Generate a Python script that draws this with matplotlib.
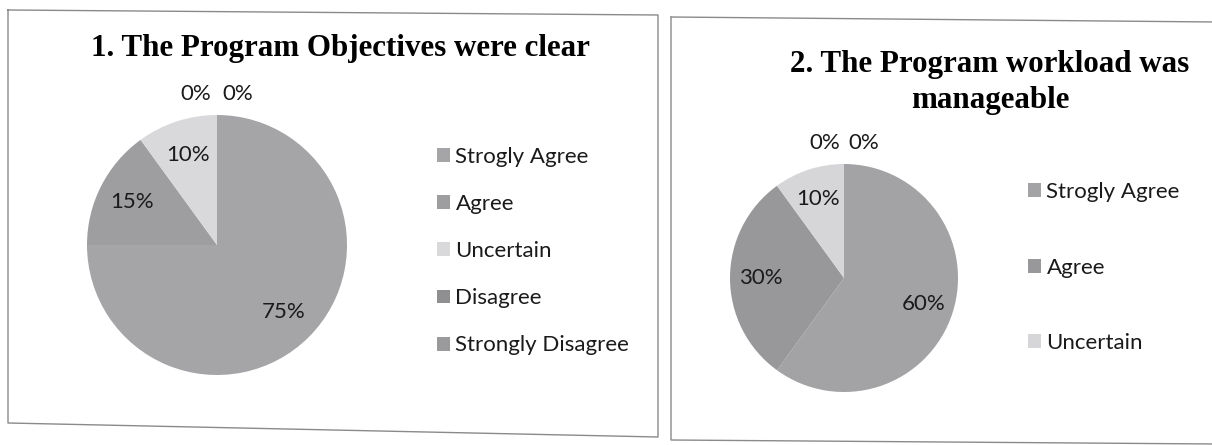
import matplotlib
matplotlib.use("Agg")
import matplotlib.pyplot as plt
from matplotlib.lines import Line2D

# ---- data ----
categories = ["Strogly Agree", "Agree", "Uncertain", "Disagree", "Strongly Disagree"]
values_q1 = [75, 15, 10, 0, 0]
values_q2 = [60, 30, 10, 0, 0]
title_q1 = "1. The Program Objectives were clear"
title_q2_lines = ["2. The Program workload was", "manageable"]

colors_q1 = ["#a5a4a7", "#9e9da0", "#d9d8db", "#8f8e91", "#9a999c"]
colors_q2 = ["#a3a2a5", "#98979a", "#d6d5d8", "#8f8e91", "#9a999c"]

W, H = 1212, 445
fig = plt.figure(figsize=(W / 100, H / 100), dpi=100)
fig.patch.set_facecolor("white")

LABEL_FONT = "Lato"
TITLE_FONT = "Liberation Serif"
FS = 16


def px_axes(x0, y0, x1, y1):
    """axes from pixel box (top-left origin)."""
    return fig.add_axes([x0 / W, 1 - y1 / H, (x1 - x0) / W, (y1 - y0) / H])


def box(points):
    xs = [p[0] / W for p in points]
    ys = [1 - p[1] / H for p in points]
    fig.add_artist(Line2D(xs, ys, color="#8a8a8a", lw=1.0, transform=fig.transFigure))


def draw_pie(ax, values, colors, zero_dx, zero_y):
    wedges, texts = ax.pie(values, colors=colors, startangle=90, counterclock=False,
                           labels=[f"{v}%" for v in values], labeldistance=0.73,
                           wedgeprops=dict(linewidth=0))
    ax.set_xlim(-1, 1)
    ax.set_ylim(-1, 1)
    ax.set_aspect("auto")
    zero_idx = [i for i, v in enumerate(values) if v == 0]
    for k, i in enumerate(zero_idx):
        texts[i].set_position(((-1 if k == 0 else 1) * zero_dx, zero_y))
    for t in texts:
        t.set_fontfamily(LABEL_FONT)
        t.set_fontsize(FS)
        t.set_color("#1a1a1a")
        t.set_ha("center")
        t.set_va("center")
    return wedges


def legend(handles, labels, x, y, spacing):
    leg = fig.legend(handles, labels, loc="upper left",
                     bbox_to_anchor=(x / W, 1 - y / H), frameon=False,
                     prop=dict(family=LABEL_FONT, size=FS), labelspacing=spacing,
                     handlelength=0.58, handleheight=0.58, handletextpad=0.25,
                     borderaxespad=0, borderpad=0)
    for t in leg.get_texts():
        t.set_color("#1a1a1a")
    return leg


# ---- panel borders ----
box([(8, 10), (658, 15), (658, 437), (8, 423), (8, 10)])
box([(671, 17), (1215, 22)])
box([(671, 17), (671, 440), (1215, 444)])

# ---- left pie ----
ax1 = px_axes(87, 115, 347, 375)
w1 = draw_pie(ax1, values_q1, colors_q1, 0.16, 1.16)
fig.text(340 / W, 1 - 56 / H, title_q1, ha="center", va="baseline",
         fontfamily=TITLE_FONT, fontweight="bold", fontsize=22.3)
legend(w1, categories, 437, 147, 1.22)

# ---- right pie ----
ax2 = px_axes(730, 164, 958, 392)
w2 = draw_pie(ax2, values_q2, colors_q2, 0.17, 1.18)
for line, base in zip(title_q2_lines, [72, 108]):
    fig.text(990 / W, 1 - base / H, line, ha="center", va="baseline",
             fontfamily=TITLE_FONT, fontweight="bold", fontsize=22.3)
legend(w2[:3], categories[:3], 1028, 182, 2.5)

fig.savefig("out.png", dpi=100, facecolor="white")
